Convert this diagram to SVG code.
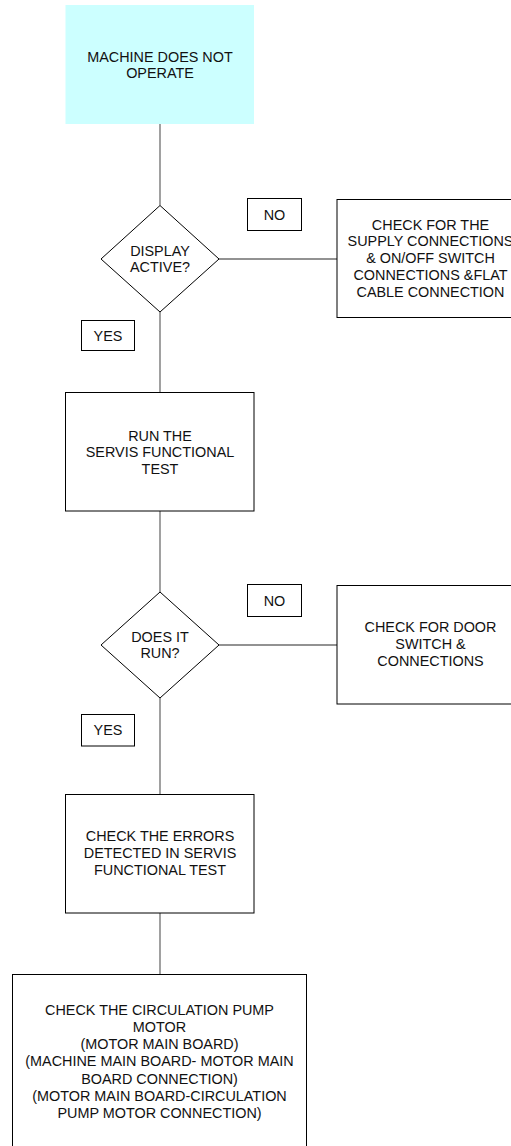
<svg xmlns="http://www.w3.org/2000/svg" width="511" height="1146" viewBox="0 0 511 1146">
<style>
.b{fill:#fff;stroke:#000;stroke-width:1}
.l{fill:#fff;stroke:#000;stroke-width:1}
.c{stroke:#6e6e6e;stroke-width:1.3;fill:none}
text{font-family:"Liberation Sans",Arial,sans-serif;font-size:14.4px;fill:#111;text-anchor:middle}
</style>
<rect width="511" height="1146" fill="#fff"/>
<g id="connectors">
<line class="c" x1="160" y1="124" x2="160" y2="205.5"/>
<line class="c" x1="160" y1="312" x2="160" y2="392.5"/>
<line class="c" x1="160" y1="511" x2="160" y2="592"/>
<line class="c" x1="160" y1="698" x2="160" y2="794.5"/>
<line class="c" x1="160" y1="913" x2="160" y2="974.5"/>
<line class="c" x1="219" y1="259" x2="337" y2="259"/>
<line class="c" x1="219" y1="645" x2="337" y2="645"/>
</g>
<g id="start">
<rect x="65.5" y="5" width="188.5" height="119" fill="#ccffff"/>
<text x="160" y="61.5">MACHINE DOES NOT</text>
<text x="160" y="78.3">OPERATE</text>
</g>
<g id="decision1">
<polygon class="b" points="160,205.5 219,259 160,312 101,259"/>
<text x="160" y="256">DISPLAY</text>
<text x="160" y="272.3">ACTIVE?</text>
</g>
<g id="no1">
<rect class="l" x="247.5" y="198.5" width="54" height="32"/>
<text x="274.5" y="219.7">NO</text>
</g>
<g id="check-supply">
<rect class="b" x="337" y="199.5" width="188" height="118"/>
<text x="430.5" y="229.5">CHECK FOR THE</text>
<text x="430.5" y="246.3">SUPPLY CONNECTIONS</text>
<text x="430.5" y="263.1">&amp; ON/OFF SWITCH</text>
<text x="430.5" y="279.9">CONNECTIONS &amp;FLAT</text>
<text x="430.5" y="296.7">CABLE CONNECTION</text>
</g>
<g id="yes1">
<rect class="l" x="81.5" y="320.5" width="53" height="30"/>
<text x="108" y="340.6">YES</text>
</g>
<g id="run-test">
<rect class="b" x="65.5" y="392.5" width="188.5" height="118.5"/>
<text x="160" y="440.5">RUN THE</text>
<text x="160" y="457">SERVIS FUNCTIONAL</text>
<text x="160" y="473.5">TEST</text>
</g>
<g id="decision2">
<polygon class="b" points="160,592 219,645 160,698 101,645"/>
<text x="160" y="641.5">DOES IT</text>
<text x="160" y="658">RUN?</text>
</g>
<g id="no2">
<rect class="l" x="247.5" y="584.5" width="54" height="32"/>
<text x="274.5" y="605.7">NO</text>
</g>
<g id="check-door">
<rect class="b" x="337" y="585.5" width="188" height="118.5"/>
<text x="430.5" y="632">CHECK FOR DOOR</text>
<text x="430.5" y="648.8">SWITCH &amp;</text>
<text x="430.5" y="665.6">CONNECTIONS</text>
</g>
<g id="yes2">
<rect class="l" x="81.5" y="714.5" width="53" height="31.5"/>
<text x="108" y="735">YES</text>
</g>
<g id="check-errors">
<rect class="b" x="65.5" y="794.5" width="188.5" height="118.5"/>
<text x="160" y="840.5">CHECK THE ERRORS</text>
<text x="160" y="857.5">DETECTED IN SERVIS</text>
<text x="160" y="874.5">FUNCTIONAL TEST</text>
</g>
<g id="check-pump">
<rect class="b" x="12.5" y="974.5" width="294" height="190"/>
<text x="159.5" y="1015">CHECK THE CIRCULATION PUMP</text>
<text x="159.5" y="1032">MOTOR</text>
<text x="159.5" y="1049.2">(MOTOR MAIN BOARD)</text>
<text x="159.5" y="1066.4">(MACHINE MAIN BOARD- MOTOR MAIN</text>
<text x="159.5" y="1083.6">BOARD CONNECTION)</text>
<text x="159.5" y="1100.8">(MOTOR MAIN BOARD-CIRCULATION</text>
<text x="159.5" y="1118">PUMP MOTOR CONNECTION)</text>
</g>
</svg>
